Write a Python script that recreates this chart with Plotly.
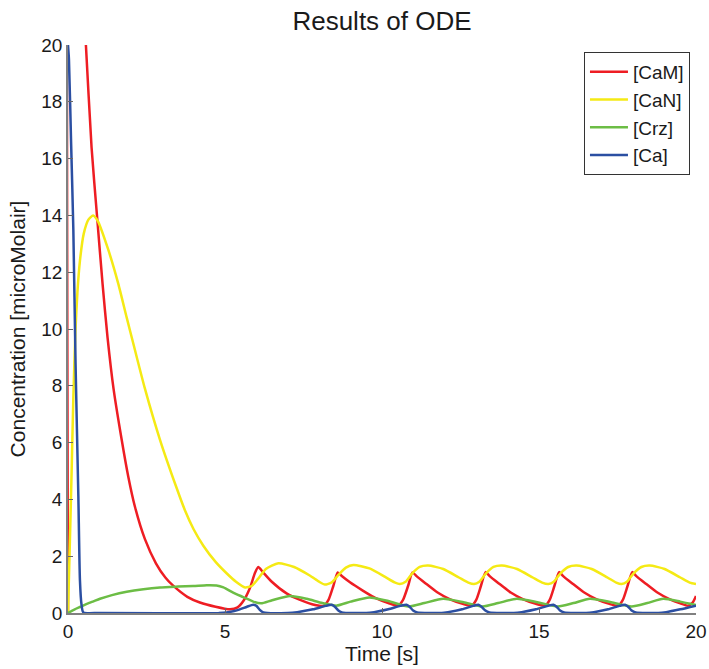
import plotly.graph_objects as go

# [CaM] readings
cam_t = [0, 0.02, 0.3, 0.57, 0.75, 0.93, 1.1, 1.26, 1.45, 1.71, 1.92, 2.13, 2.45, 2.8, 3.1, 3.34, 3.8, 4.2, 4.7, 5.16,
         5.4, 5.6, 5.8, 5.95, 6.06, 6.2, 6.49, 6.96, 7.39, 7.87, 8.14,
         8.3, 8.45, 8.59, 8.72, 8.98, 9.4, 9.8, 10.2, 10.52,
         10.67, 10.83, 10.97, 11.1, 11.37, 11.77, 12.17, 12.57, 12.86,
         13.0, 13.15, 13.3, 13.43, 13.7, 14.1, 14.5, 14.9, 15.2,
         15.34, 15.49, 15.64, 15.77, 16.04, 16.44, 16.84, 17.24, 17.53,
         17.67, 17.82, 17.97, 18.1, 18.37, 18.77, 19.17, 19.5, 19.75, 19.9, 20.0]
cam_v = [0, 30.5, 25.2, 20.0, 16.4, 13.9, 11.6, 9.7, 7.9, 6.1, 4.8, 3.75, 2.6, 1.75, 1.25, 0.97, 0.57, 0.37, 0.22, 0.13,
         0.2, 0.45, 0.9, 1.4, 1.62, 1.45, 1.1, 0.69, 0.46, 0.28, 0.25,
         0.47, 0.95, 1.43, 1.3, 1.08, 0.78, 0.52, 0.35, 0.26,
         0.46, 0.95, 1.43, 1.3, 1.06, 0.72, 0.48, 0.32, 0.26,
         0.46, 0.95, 1.44, 1.3, 1.06, 0.72, 0.48, 0.32, 0.26,
         0.46, 0.95, 1.44, 1.3, 1.06, 0.72, 0.48, 0.32, 0.26,
         0.46, 0.95, 1.44, 1.3, 1.06, 0.72, 0.48, 0.34, 0.26, 0.38, 0.6]

# [CaN] readings
can_t = [0, 0.06, 0.12, 0.17, 0.24, 0.3, 0.38, 0.5, 0.65, 0.8, 0.95, 1.28, 1.6, 1.87, 2.1, 2.45, 2.93, 3.46, 3.73, 4.0,
         4.31, 4.7, 5.05, 5.35, 5.64, 5.85, 6.05, 6.3, 6.7, 7.2, 7.7, 8.0, 8.18,
         8.4, 8.62, 8.85, 9.09, 9.6, 10.1, 10.4, 10.57,
         10.75, 10.95, 11.2, 11.47, 11.95, 12.45, 12.75, 12.93,
         13.1, 13.3, 13.55, 13.82, 14.3, 14.8, 15.1, 15.3,
         15.47, 15.67, 15.93, 16.2, 16.68, 17.18, 17.46, 17.63,
         17.8, 18.0, 18.26, 18.53, 19.0, 19.5, 19.8, 20.0]
can_v = [0, 2.5, 5.2, 7.6, 10.0, 11.3, 12.4, 13.35, 13.85, 14.0, 13.8, 12.8, 11.6, 10.4, 9.4, 7.9, 6.1, 4.4, 3.6, 2.95,
         2.37, 1.8, 1.4, 1.1, 0.9, 0.95, 1.2, 1.55, 1.75, 1.62, 1.32, 1.1, 1.0,
         1.08, 1.35, 1.6, 1.69, 1.57, 1.27, 1.08, 1.02,
         1.1, 1.38, 1.62, 1.67, 1.55, 1.25, 1.07, 1.02,
         1.1, 1.38, 1.62, 1.67, 1.55, 1.25, 1.07, 1.02,
         1.1, 1.38, 1.62, 1.67, 1.55, 1.25, 1.07, 1.02,
         1.1, 1.38, 1.62, 1.67, 1.55, 1.25, 1.07, 1.02]

# [Crz] readings
crz_t = [0, 0.2, 0.4, 0.6, 0.81, 1.02, 1.4, 1.87, 2.4, 2.93, 3.5, 3.99, 4.42, 4.73, 4.95, 5.26, 5.58, 5.9, 6.15,
         6.5, 7.07, 7.6, 8.1, 8.56, 9.0, 9.6, 10.2, 10.85, 11.35, 11.95, 12.6, 13.2, 13.7, 14.29, 14.95, 15.6,
         16.1, 16.62, 17.3, 17.95, 18.45, 18.96, 19.5, 20.0]
crz_v = [0, 0.12, 0.22, 0.32, 0.41, 0.5, 0.63, 0.75, 0.84, 0.9, 0.93, 0.95, 0.98, 0.97, 0.9, 0.72, 0.56, 0.4, 0.34,
         0.45, 0.6, 0.5, 0.35, 0.26, 0.4, 0.55, 0.42, 0.23, 0.35, 0.5, 0.38, 0.23, 0.35, 0.5, 0.38, 0.23,
         0.35, 0.5, 0.38, 0.23, 0.35, 0.5, 0.4, 0.28]

# [Ca] readings
ca_t = [0, 0.03, 0.1, 0.17, 0.24, 0.33, 0.38, 0.43, 0.49, 1.0, 4.8, 5.05, 5.4, 5.7, 5.9, 6.0, 6.1, 6.22, 7.0,
        7.3, 7.8, 8.2, 8.4, 8.5, 8.6, 8.72, 9.5,
        9.75, 10.2, 10.58, 10.78, 10.88, 10.98, 11.12, 11.9,
        12.1, 12.55, 12.9, 13.07, 13.17, 13.28, 13.42, 14.2,
        14.45, 14.9, 15.28, 15.46, 15.56, 15.66, 15.8, 16.5,
        16.75, 17.2, 17.56, 17.74, 17.84, 17.94, 18.08, 18.8,
        19.05, 19.5, 20.0]
ca_v = [20, 19.5, 16.5, 13.5, 8.8, 4.1, 1.16, 0.3, 0.02, 0.0, 0.0, 0.02, 0.1, 0.22, 0.29, 0.25, 0.12, 0.02, 0.0,
        0.03, 0.13, 0.25, 0.29, 0.22, 0.1, 0.02, 0.0,
        0.03, 0.13, 0.25, 0.29, 0.22, 0.1, 0.02, 0.0,
        0.03, 0.13, 0.25, 0.29, 0.22, 0.1, 0.02, 0.0,
        0.03, 0.13, 0.25, 0.29, 0.22, 0.1, 0.02, 0.0,
        0.03, 0.13, 0.25, 0.29, 0.22, 0.1, 0.02, 0.0,
        0.03, 0.13, 0.26]

x_ticks = [0, 5, 10, 15, 20]
y_ticks = [0, 2, 4, 6, 8, 10, 12, 14, 16, 18, 20]

FONT = "Liberation Sans, Arial, Helvetica, sans-serif"

series = [
    ("[CaM]", cam_t, cam_v, "#EE1D23"),
    ("[CaN]", can_t, can_v, "#F5EA14"),
    ("[Crz]", crz_t, crz_v, "#6CBD45"),
    ("[Ca]", ca_t, ca_v, "#2B4FA2"),
]

fig = go.Figure()
for name, t, v, c in series:
    fig.add_trace(go.Scatter(x=t, y=v, mode="lines", name=name,
                             line=dict(color=c, width=2.5, shape="spline", smoothing=0.6)))

fig.update_layout(
    width=709, height=669,
    margin=dict(l=68, r=13, t=45, b=56, autoexpand=False),
    paper_bgcolor="white", plot_bgcolor="white",
    font=dict(family=FONT, size=19, color="#1a1a1a"),
    title=dict(text="Results of ODE", x=(68 + 696) / 2 / 709, xanchor="center",
               y=1 - 21 / 669, yanchor="middle", font=dict(size=26)),
    showlegend=True,
    legend=dict(x=0.9904, xanchor="right", y=0.9877, yanchor="top",
                bgcolor="white", bordercolor="#333333", borderwidth=1,
                font=dict(size=19), tracegroupgap=0, itemwidth=38),
)
fig.update_xaxes(range=[0, 20], tickvals=x_ticks, ticks="inside", ticklen=5, tickcolor="#666666",
                 showline=True, linecolor="#808080", linewidth=1.5, showgrid=False, zeroline=False,
                 automargin=False,
                 title=dict(text="Time [s]", font=dict(size=21), standoff=0))
fig.update_yaxes(range=[0, 20], tickvals=y_ticks, ticks="inside", ticklen=5, tickcolor="#666666",
                 showline=True, linecolor="#808080", linewidth=1.5, showgrid=False, zeroline=False,
                 automargin=False,
                 title=dict(text="Concentration [microMolair]", font=dict(size=21), standoff=10))

fig.write_html("out.html")
